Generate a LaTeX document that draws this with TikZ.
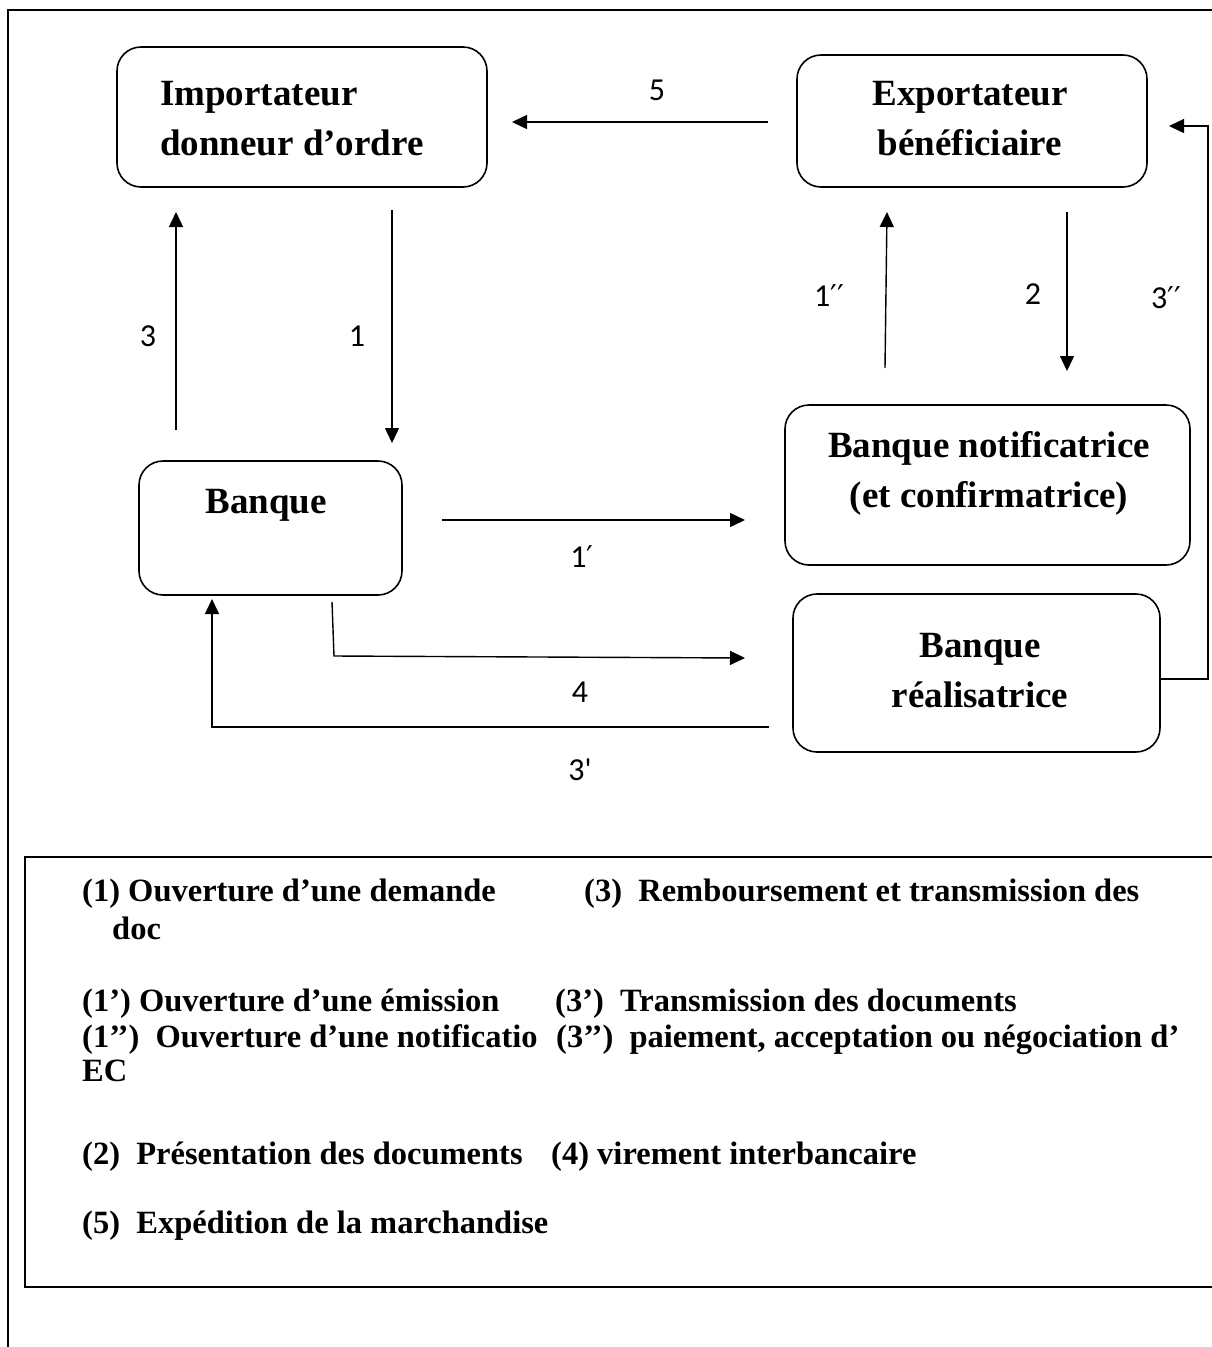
\documentclass[tikz,border=0pt]{standalone}
\usepackage{fontspec}
\setmainfont{Liberation Serif}
\newfontfamily\lblfont{Carlito}
\newfontfamily\primefont{DejaVu Sans}
\newcommand{\pr}{{\primefont\fontsize{30}{32}\selectfont ′}}
\usetikzlibrary{arrows.meta}
\begin{document}
\begin{tikzpicture}[x=1pt,y=-1pt,
  box/.style={draw, line width=1.6pt, rounded corners=24pt, inner sep=0pt},
  boxtxt/.style={font=\fontsize{37}{50}\selectfont\bfseries, align=center, inner sep=0pt},
  lbl/.style={font=\lblfont\fontsize{32}{34}\selectfont, inner sep=0pt},
  arr/.style={line width=1.4pt, -{Triangle[length=15pt,width=14pt]}},
  leg/.style={font=\fontsize{32.5}{38}\selectfont\bfseries, anchor=base west, inner sep=0pt},
  frame/.style={line width=2pt}]
\useasboundingbox (0,0) rectangle (1212,1347);
% outer frame
\draw[frame] (8,1347) -- (8,10) -- (1212,10);
% boxes
\node[box, minimum width=370pt, minimum height=140pt] (imp) at (302,117) {};
\node[box, minimum width=350pt, minimum height=132pt] (exp) at (972,121) {};
\node[box, minimum width=263pt, minimum height=134pt] (ban) at (270.5,528) {};
\node[box, minimum width=405pt, minimum height=160pt] (not) at (987.5,485) {};
\node[box, minimum width=367pt, minimum height=158pt] (rea) at (976.5,673) {};
% box texts
\node[boxtxt, align=left, anchor=west] (impT) at (160,119) {Importateur\\donneur d’ordre};
\node[boxtxt] (expT) at (970,119) {Exportateur\\bénéficiaire};
\node[boxtxt] (banT) at (266,505) {Banque};
\node[boxtxt] (notT) at (989,473) {Banque notificatrice\\(et confirmatrice)};
\node[boxtxt] (reaT) at (980,671) {Banque\\réalisatrice};
% connector end points
\coordinate (a5s) at (768,122);  \coordinate (a5e) at (512,122);
\coordinate (a3s) at (176,430);  \coordinate (a3e) at (176,212);
\coordinate (a1s) at (392,210);  \coordinate (a1e) at (392,443);
\coordinate (b1s) at (885,368);  \coordinate (b1e) at (887,212);
\coordinate (a2s) at (1067,212); \coordinate (a2e) at (1067,371);
\coordinate (c1s) at (442,520);  \coordinate (c1e) at (745,520);
\coordinate (a4s) at (332,602);  \coordinate (a4m) at (334,656); \coordinate (a4e) at (745,658);
\coordinate (d3s) at (769,727);  \coordinate (d3m) at (212,727); \coordinate (d3e) at (212,599);
\coordinate (e3s) at (1160,679); \coordinate (e3m) at (1208,679); \coordinate (e3n) at (1208,126); \coordinate (e3e) at (1169,126);
% connectors
\draw[arr] (a5s) -- (a5e);
\draw[arr] (a3s) -- (a3e);
\draw[arr] (a1s) -- (a1e);
\draw[arr] (b1s) -- (b1e);
\draw[arr] (a2s) -- (a2e);
\draw[arr] (c1s) -- (c1e);
\draw[arr] (a4s) -- (a4m) -- (a4e);
\draw[arr] (d3s) -- (d3m) -- (d3e);
\draw[arr] (e3s) -- (e3m) -- (e3n) -- (e3e);
% connector labels
\node[lbl] (l5) at (657,90) {5};
\node[lbl] (l3) at (148,336) {3};
\node[lbl] (l1) at (357,336) {1};
\node[lbl] (l1b) at (829,296) {1\pr\pr};
\node[lbl] (l2) at (1033,294) {2};
\node[lbl] (l3b) at (1166,298) {3\pr\pr};
\node[lbl] (l1a) at (582,557) {1\pr};
\node[lbl] (l4) at (580,692) {4};
\node[lbl] (l3a) at (580,770) {3'};
% legend
\draw[frame] (1212,857) -- (25,857) -- (25,1287) -- (1212,1287);
\node[leg] (g1) at (82,901) {(1) Ouverture d’une demande};
\node[leg] (g3) at (584,901) {(3)~~Remboursement et transmission des};
\node[leg] (gdoc) at (112,939) {doc};
\node[leg] (g1a) at (82,1011) {(1’) Ouverture d’une émission};
\node[leg] (g3a) at (555,1011) {(3’)~~Transmission des documents};
\node[leg] (g1b) at (82,1047) {(1’’)~~Ouverture d’une notificatio};
\node[leg] (g3b) at (556,1047) {(3’’)~~paiement, acceptation ou négociation d’};
\node[leg] (gec) at (82,1081) {EC};
\node[leg] (g2) at (82,1164) {(2)~~Présentation des documents};
\node[leg] (g4) at (551,1164) {(4) virement interbancaire};
\node[leg] (g5) at (82,1233) {(5)~~Expédition de la marchandise};
\end{tikzpicture}
\end{document}
